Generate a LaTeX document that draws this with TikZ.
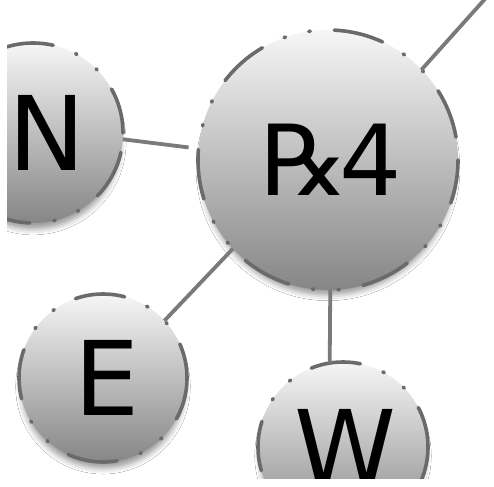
\documentclass[tikz,border=0pt]{standalone}
\usepackage{fontspec}
\setmainfont{DejaVu Sans}
\usetikzlibrary{shadows.blur}

\definecolor{rimgray}{HTML}{6A6A6A}
\definecolor{linkgray}{HTML}{7A7A7A}
\definecolor{balltop}{HTML}{F6F6F6}
\definecolor{ballmid}{HTML}{D0D0D0}
\definecolor{ballbot}{HTML}{868686}

\tikzset{
  ball/.style={
    circle, inner sep=0pt, outer sep=0pt,
    top color=balltop, middle color=ballmid, bottom color=ballbot,
    draw=rimgray, line width=3.6pt, line cap=round,
    dash pattern=on 50pt off 24pt on 1.5pt off 24pt on 1.5pt off 24pt,
    font=\fontsize{103}{110}\selectfont,
    blur shadow={shadow xshift=0pt, shadow yshift=-9pt, shadow scale=0.97,
                 shadow blur radius=6pt, shadow opacity=40}
  },
  link/.style={draw=linkgray, line width=3.8pt}
}

\begin{document}
\begin{tikzpicture}[x=1pt, y=-1pt]
  \useasboundingbox (0,0) rectangle (494,486);
  \fill[white] (0,0) rectangle (494,486);
  \begin{scope}
    \clip (7,0) rectangle (494,478);

    \coordinate (R4c) at (328,160);
    \coordinate (Nc)  at (33,133);
    \coordinate (Ec)  at (103,378);
    \coordinate (Wc)  at (343,447);
    \coordinate (out) at (502,-20);

    % the balls
    \node[ball, minimum size=260pt, dash phase=102pt] (R4) at (R4c)
      {\kern6pt\fontsize{98}{104}\selectfont ℞\kern-9pt 4};
    \node[ball, minimum size=180pt, dash phase=4pt]   (N)  at (Nc)  {\kern28pt N};
    \node[ball, minimum size=168pt, dash phase=15pt]  (E)  at (Ec)  {\kern8pt E};
    \node[ball, minimum size=170pt, dash phase=9pt]   (W)  at (Wc)  {\kern4pt W};

    % connectors between the balls
    \draw[link, shorten >=10pt] (N.-4) -- (R4.175);
    \draw[link] (R4.223) -- (E.43);
    \draw[link] (R4.-89) -- (W.99);
    \draw[link] (R4.44) -- (out);
  \end{scope}
\end{tikzpicture}
\end{document}
